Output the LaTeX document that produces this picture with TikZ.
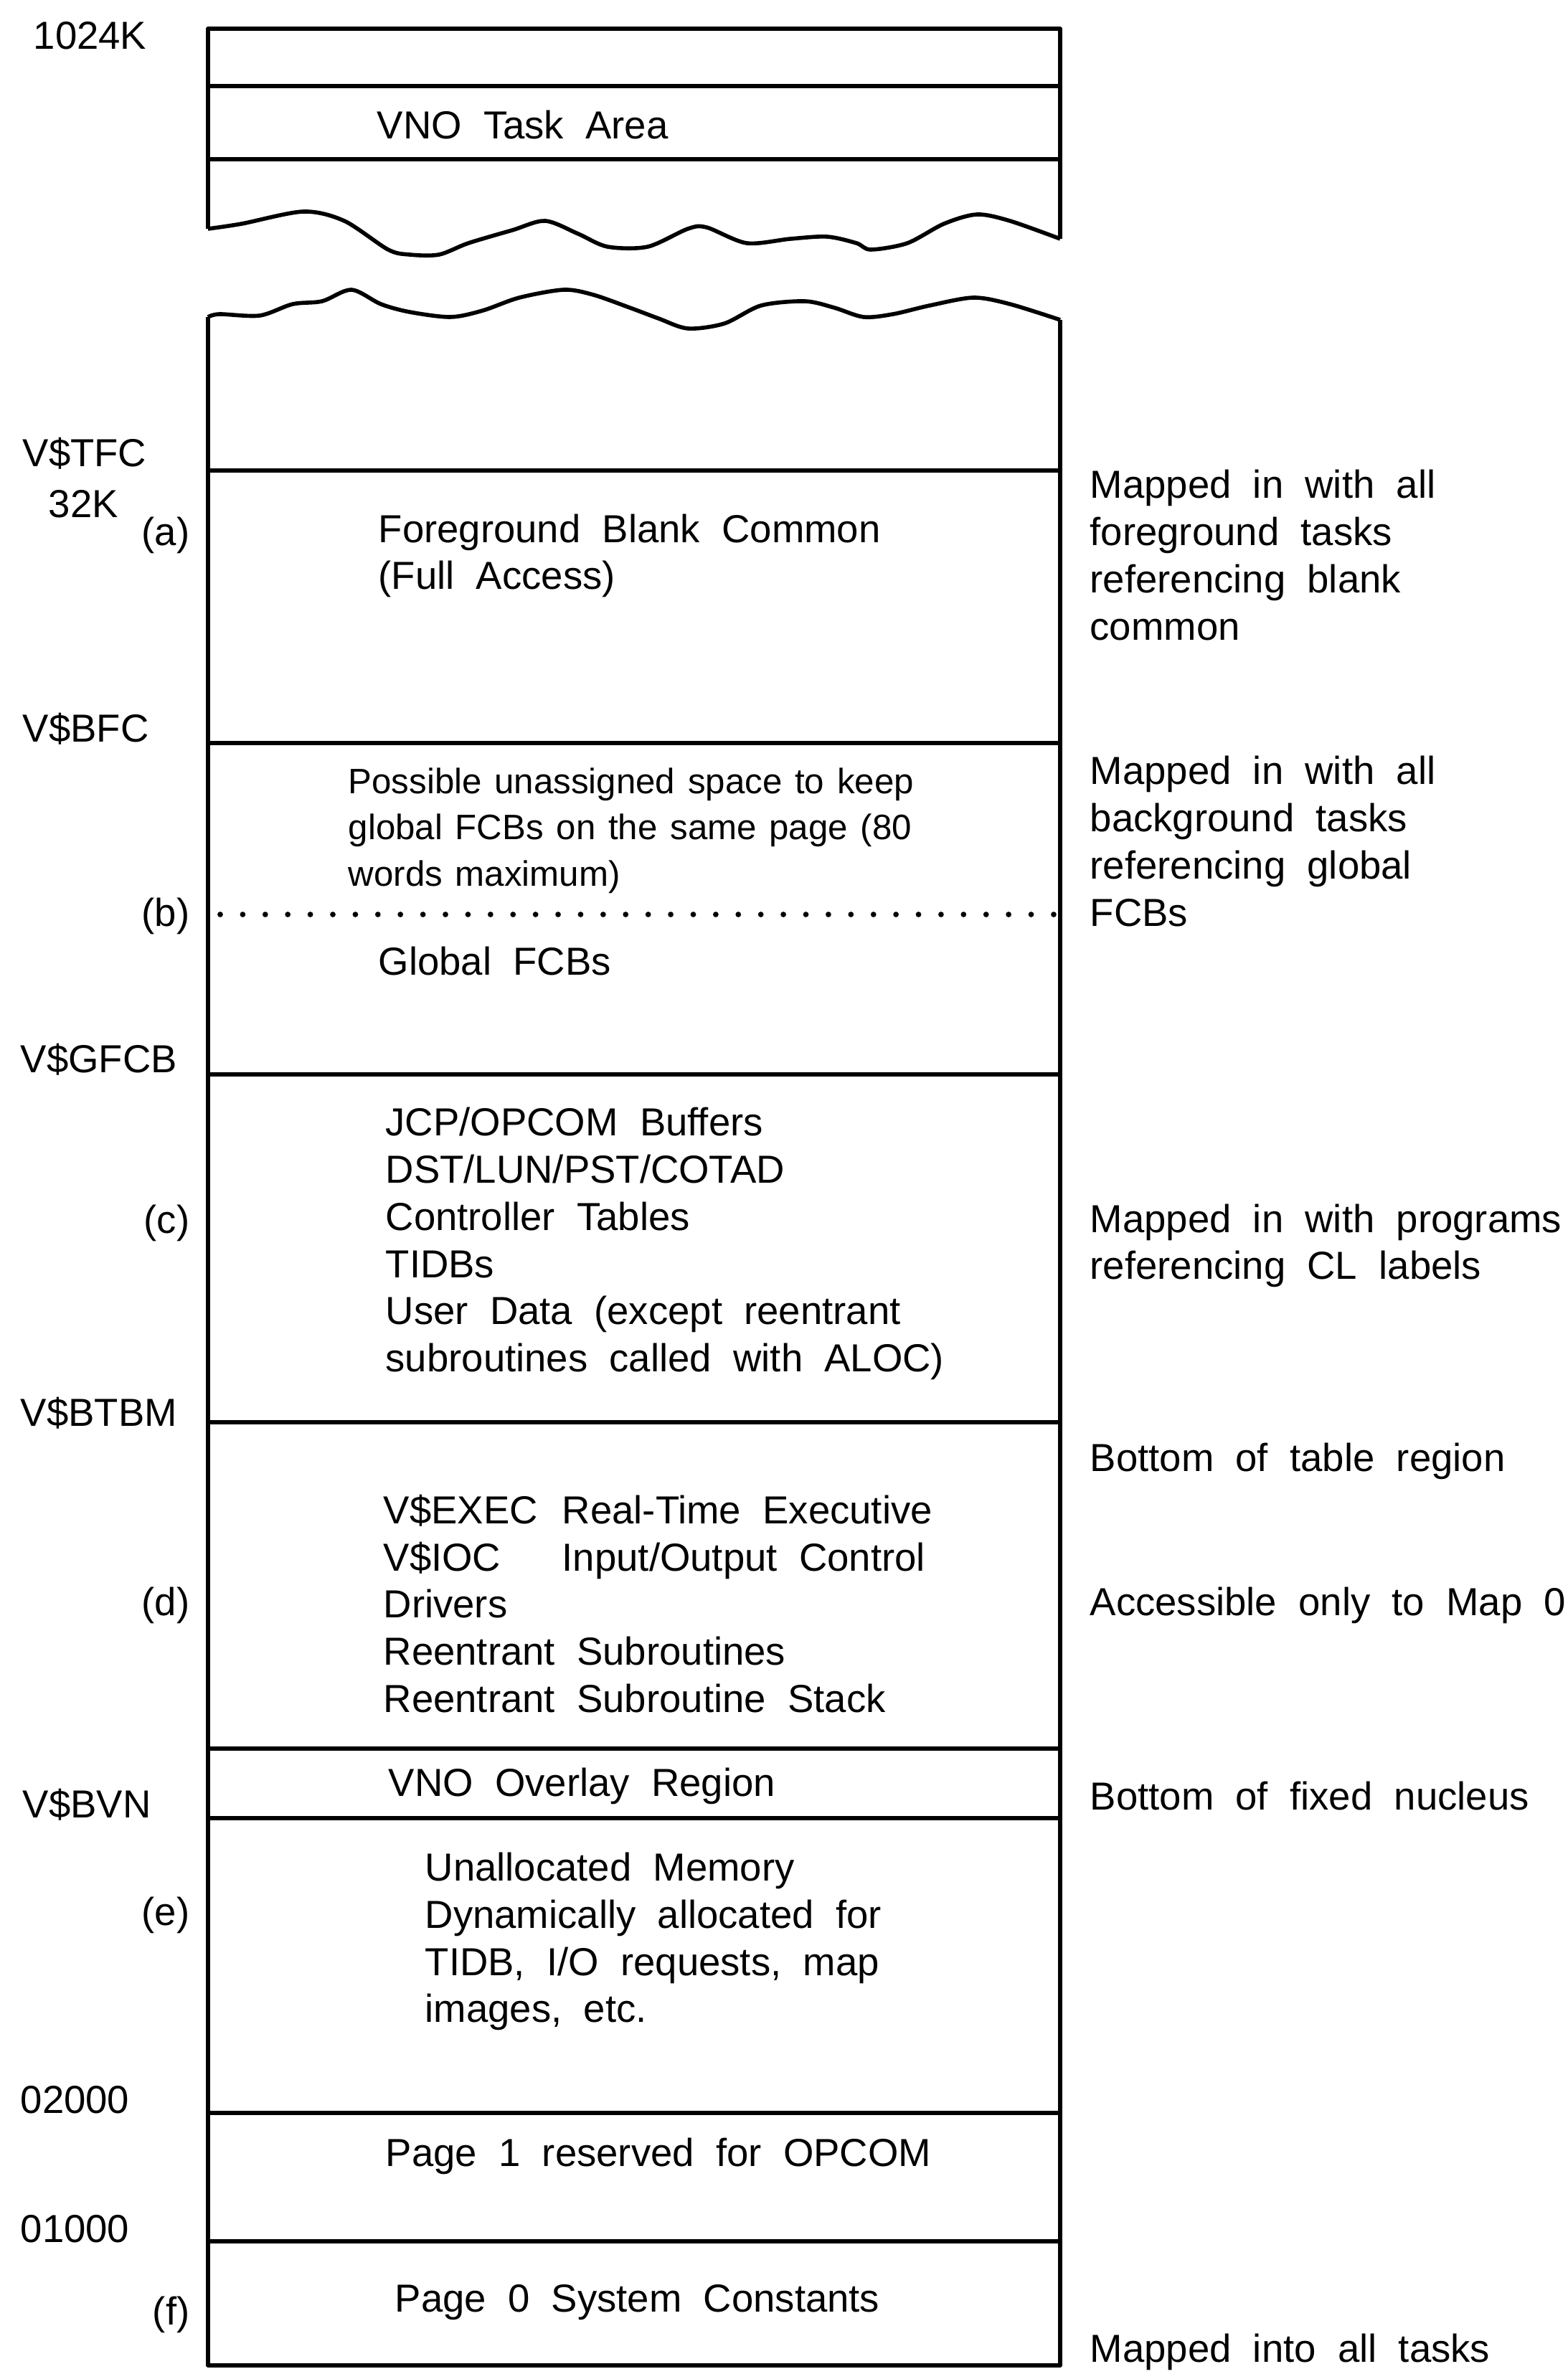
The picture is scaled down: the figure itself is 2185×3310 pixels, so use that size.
\documentclass[tikz,border=0pt]{standalone}
\usepackage{fontspec}
\setmainfont[WordSpace=2]{Liberation Sans}
\newfontfamily\smallfam[WordSpace=1.3]{Liberation Sans}

\tikzset{
  wall/.style={line width=1.6pt, line join=round},
  txt/.style={inner sep=0pt, anchor=west, align=left, font=\fontsize{15.5}{18.7}\selectfont},
  smalltxt/.style={txt, font=\smallfam\fontsize{14}{18.4}\selectfont},
  tag/.style={txt, anchor=east},
}

\begin{document}
\begin{tikzpicture}[x=0.01cm, y=-0.01cm]
	%%%%% START %%%%%
	\useasboundingbox (0,0) rectangle (2185,3310);

	% top piece, broken off
	\draw[wall] (290,319) -- (290,40) -- (1478,40) -- (1478,333);
	\draw[wall] (290,120) -- (1478,120);
	\draw[wall] (290,222) -- (1478,222);
	\draw[wall] plot[smooth, tension=0.5] coordinates {(290,319) (337,312) (423,295) (480,308) (541,348) (571,355) (612,355) (653,339) (714,321) (760,308) (806,326) (847,344) (903,344) (959,319) (985,317) (1041,339) (1102,333) (1153,330) (1194,339) (1214,348) (1265,339) (1316,312) (1362,299) (1408,308) (1478,333)};

	% lower piece
	\draw[wall] plot[smooth, tension=0.5] coordinates {(290,442) (306,438) (362,440) (408,424) (449,420) (490,404) (531,424) (571,435) (628,442) (673,433) (724,415) (786,404) (827,411) (878,429) (918,444) (959,458) (1010,451) (1061,426) (1122,420) (1163,429) (1204,442) (1245,438) (1296,426) (1357,415) (1408,424) (1478,446)};
	\draw[wall] (290,442) -- (290,3298) -- (1478,3298) -- (1478,446);

	\foreach \y in {656,1036,1498,1983,2438,2535,2946,3125}
		\draw[wall] (290,\y) -- (1478,\y);
	\draw[line width=2.2pt, line cap=round, dash pattern=on 0pt off 8.93pt] (307,1275) -- (1470,1275);

	% addresses on the left
	\node[txt] (k1024) at (46,50) {1024K};
	\node[txt] (tfc) at (31,632) {V\$TFC};
	\node[txt] (k32) at (67,703) {32K};
	\node[txt] (bfc) at (31,1016) {V\$BFC};
	\node[txt] (gfcb) at (28,1477) {V\$GFCB};
	\node[txt] (btbm) at (28,1970) {V\$BTBM};
	\node[txt] (bvn) at (31,2516) {V\$BVN};
	\node[txt] (a2000) at (28,2928) {02000};
	\node[txt] (a1000) at (28,3108) {01000};

	\node[tag] (ta) at (265,746) {(a)};
	\node[tag] (tb) at (265,1277) {(b)};
	\node[tag] (tc) at (265,1705) {(c)};
	\node[tag] (td) at (265,2238) {(d)};
	\node[tag] (te) at (265,2670) {(e)};
	\node[tag] (tf) at (265,3227) {(f)};

	% inside the map
	\node[txt] (task) at (525,174) {VNO Task Area};
	\node[txt] (blank) at (527,775) {Foreground Blank Common\\(Full Access)};
	\node[smalltxt] (unasg) at (485,1158) {Possible unassigned space to keep\\global FCBs on the same page (80\\words maximum)};
	\node[txt] (gfcbs) at (527,1340) {Global FCBs};
	\node[txt] (tables) at (537,1734) {JCP/OPCOM Buffers\\DST/LUN/PST/COTAD\\Controller Tables\\TIDBs\\User Data (except reentrant\\subroutines called with ALOC)};
	\node[txt] (nucleus) at (534,2236) {\makebox[2.49cm][l]{V\$EXEC}Real-Time Executive\\\makebox[2.49cm][l]{V\$IOC}Input/Output Control\\Drivers\\Reentrant Subroutines\\Reentrant Subroutine Stack};
	\node[txt] (ovly) at (541,2490) {VNO Overlay Region};
	\node[txt] (unalloc) at (592,2707) {Unallocated Memory\\Dynamically allocated for\\TIDB, I/O requests, map\\images, etc.};
	\node[txt] (page1) at (537,3006) {Page 1 reserved for OPCOM};
	\node[txt] (page0) at (550,3210) {Page 0 System Constants};

	% notes on the right
	\node[txt] (na) at (1519,774) {Mapped in with all\\foreground tasks\\referencing blank\\common};
	\node[txt] (nb) at (1519,1173) {Mapped in with all\\background tasks\\referencing global\\FCBs};
	\node[txt] (nc) at (1519,1737) {Mapped in with programs\\referencing CL labels};
	\node[txt] (ntbl) at (1519,2037) {Bottom of table region};
	\node[txt] (nd) at (1519,2238) {Accessible only to Map 0};
	\node[txt] (nfix) at (1519,2504) {Bottom of fixed nucleus};
	\node[txt] (nf) at (1519,3279) {Mapped into all tasks};
	%%%%% END %%%%%
\end{tikzpicture}
\end{document}
